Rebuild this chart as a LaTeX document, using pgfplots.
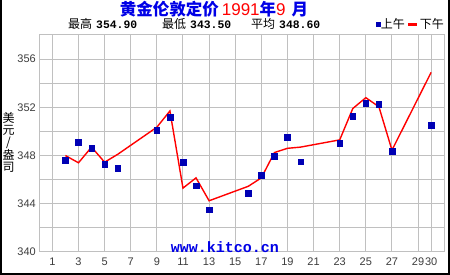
\documentclass[border=0pt]{standalone}
\usepackage{pgfplots}
\usepackage{pgfplotstable}
\pgfplotsset{compat=1.18}
\usepackage{fontspec}
\setmainfont{Liberation Sans}
\newfontfamily\cjk{Noto Sans CJK SC}
\newfontfamily\mono{Liberation Mono}
\definecolor{amblue}{RGB}{0,0,180}
\definecolor{gridgray}{RGB}{192,192,192}
\definecolor{ticktext}{RGB}{60,60,60}
\definecolor{titleblue}{RGB}{0,0,230}
\definecolor{pmred}{RGB}{255,0,0}

\pgfplotstableread{
day price
2 347.6
3 349.1
4 348.6
5 347.3
6 346.95
9 350.1
10 351.2
11 347.45
12 345.5
13 343.5
16 344.9
17 346.35
18 347.95
19 349.5
20 347.5
23 349.0
24 351.25
25 352.35
26 352.25
27 348.35
30 350.5
}\amdata

\pgfplotstableread{
day price
2 348.0
3 347.4
4 348.7
5 347.45
6 348.1
9 350.35
10 351.7
11 345.3
12 346.15
13 344.25
16 345.45
17 346.15
18 348.25
19 348.6
20 348.7
23 349.3
24 351.9
25 352.8
26 352.05
27 348.45
30 354.9
}\pmdata

\begin{document}
\begin{tikzpicture}
\path[use as bounding box] (0,0) rectangle (450pt,275pt);
\begin{axis}[
  at={(39.3pt,23pt)}, anchor=south west,
  scale only axis, width=404.9pt, height=217pt,
  xmin=0, xmax=31, ymin=340, ymax=358,
  xtick={1,3,5,7,9,11,13,15,17,19,21,23,25,27,29,30},
  ytick={340,344,348,352,356},
  minor ytick={342,346,350,354,358},
  grid=both,
  grid style={gridgray, line width=1pt},
  major grid style={gridgray, line width=1pt},
  minor grid style={gridgray, line width=1pt},
  axis line style={gridgray, line width=1pt},
  major tick length=0pt, minor tick length=0pt,
  tick label style={font=\fontsize{11}{11}\selectfont, text=ticktext},
  xticklabel style={yshift=-2pt},
  /pgf/number format/assume math mode=true,
  legend columns=2,
  legend style={at={(0.83,1.05)}, anchor=west, draw=none, fill=none,
    font=\cjk\fontsize{12}{12}\selectfont, inner sep=0pt,
    nodes={inner sep=1pt},
    /tikz/every even column/.append style={column sep=1pt}},
]
\addplot[only marks, mark=square*, mark size=2.8pt, color=amblue,
  legend image code/.code={\fill[amblue] (0pt,-2pt) rectangle (4pt,2pt);}]
  table[x=day, y=price] {\amdata};
\addlegendentry{上午}
\addplot[pmred, line width=1.4pt, mark=none,
  legend image code/.code={\draw[pmred, line width=3pt] (0pt,0pt) -- (9pt,0pt);}]
  table[x=day, y=price] {\pmdata};
\addlegendentry{下午}
\end{axis}
% title
\node[anchor=center, inner sep=0pt] at (214pt,266pt)
  {{\cjk\bfseries\fontsize{16.5}{17}\selectfont\color{titleblue}黄金伦敦定价}\hspace{3pt}{\fontsize{17}{17}\selectfont\color{pmred}1991}{\cjk\bfseries\fontsize{16.5}{17}\selectfont\color{titleblue}年}{\fontsize{17}{17}\selectfont\color{pmred}9}\hspace{6pt}{\cjk\bfseries\fontsize{16.5}{17}\selectfont\color{titleblue}月}};
% statistics line
\node[anchor=west, inner sep=0pt] at (68pt,251pt)
  {{\cjk\fontsize{12}{12}\selectfont 最高}\hspace{4pt}{\mono\bfseries\fontsize{11.4}{12}\selectfont 354.90}};
\node[anchor=west, inner sep=0pt] at (162pt,251pt)
  {{\cjk\fontsize{12}{12}\selectfont 最低}\hspace{4pt}{\mono\bfseries\fontsize{11.4}{12}\selectfont 343.50}};
\node[anchor=west, inner sep=0pt] at (251pt,251pt)
  {{\cjk\fontsize{12}{12}\selectfont 平均}\hspace{4pt}{\mono\bfseries\fontsize{11.4}{12}\selectfont 348.60}};
% y label
\node[anchor=center, inner sep=0pt, align=center, font=\cjk\fontsize{12}{12}\selectfont] at (8.5pt,133pt)
  {美\\元\\/\\盎\\司};
% watermark
\node[anchor=center, inner sep=0pt, text=titleblue] at (225pt,28pt)
  {\mono\bfseries\fontsize{15}{15}\selectfont www.kitco.cn};
% outer frame
\draw[black, line width=1.5pt] (0.75pt,275pt) -- (0.75pt,0.75pt) -- (448.8pt,0.75pt) -- (448.8pt,275pt);
\end{tikzpicture}
\end{document}
